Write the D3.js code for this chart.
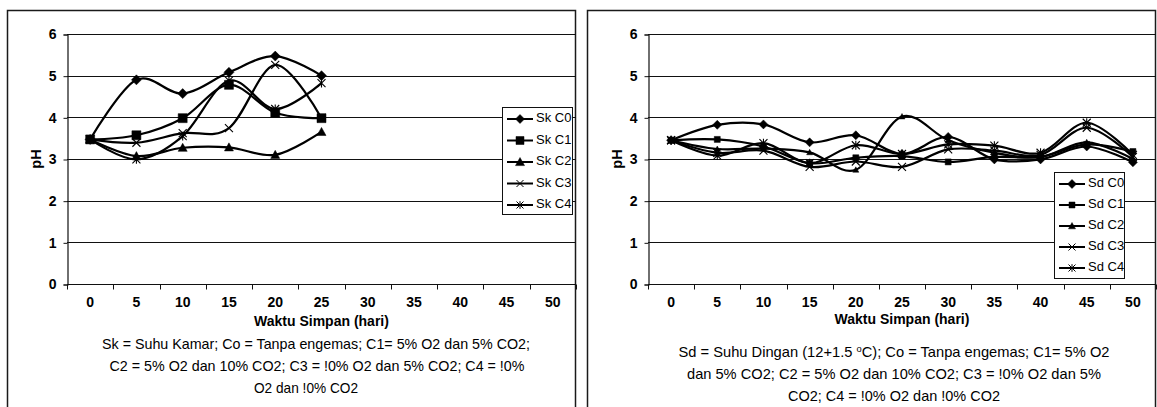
<!DOCTYPE html>
<html lang="id">
<head>
<meta charset="utf-8">
<title>pH - Waktu Simpan</title>
<script src="https://d3js.org/d3.v7.min.js"></script>
<style>
  body { margin: 0; background: #fff; }
  text { font-family: "Liberation Sans", Arial, sans-serif; fill: #000; }
</style>
</head>
<body>
<div id="chart"></div>
<script>
// data
const days = [0, 5, 10, 15, 20, 25, 30, 35, 40, 45, 50];
const yTicks = [0, 1, 2, 3, 4, 5, 6];

// Sk = suhu kamar (only up to day 25)
const skC0 = [3.47, 4.90, 4.57, 5.08, 5.47, 5.00];
const skC1 = [3.47, 3.57, 3.98, 4.78, 4.11, 3.98];
const skC2 = [3.47, 3.07, 3.27, 3.28, 3.10, 3.65];
const skC3 = [3.47, 3.39, 3.62, 3.74, 5.26, 3.98];
const skC4 = [3.47, 2.99, 3.55, 4.88, 4.20, 4.82];
const skNames = ["Sk C0", "Sk C1", "Sk C2", "Sk C3", "Sk C4"];

// Sd = suhu dingin
const sdC0 = [3.45, 3.82, 3.83, 3.40, 3.57, 3.12, 3.53, 2.99, 2.99, 3.30, 2.92];
const sdC1 = [3.45, 3.47, 3.30, 2.90, 3.03, 3.07, 2.93, 3.05, 3.05, 3.35, 3.18];
const sdC2 = [3.45, 3.24, 3.25, 3.16, 2.74, 4.02, 3.45, 3.15, 3.05, 3.40, 3.00];
const sdC3 = [3.45, 3.15, 3.20, 2.81, 2.94, 2.81, 3.23, 3.20, 3.10, 3.75, 3.05];
const sdC4 = [3.45, 3.08, 3.38, 2.90, 3.33, 3.12, 3.35, 3.32, 3.15, 3.87, 3.10];
const sdNames = ["Sd C0", "Sd C1", "Sd C2", "Sd C3", "Sd C4"];

const xTitle = "Waktu Simpan (hari)";
const yTitle = "pH";
const skCaption = [
  "Sk = Suhu Kamar; Co = Tanpa engemas; C1= 5% O2 dan 5% CO2;",
  "C2 = 5% O2 dan 10% CO2; C3 = !0% O2 dan 5% CO2; C4 = !0%",
  "O2 dan !0% CO2"
];
const sdCaption = [
  ["Sd = Suhu Dingan (12+1.5 ", "o", "C); Co = Tanpa engemas; C1= 5% O2"],
  ["dan 5% CO2; C2 = 5% O2 dan 10% CO2; C3 = !0% O2 dan 5%"],
  ["CO2; C4 = !0% O2 dan !0% CO2"]
];

const markerKinds = ["diamond", "square", "triangle", "cross", "star"];

const W = 1157, H = 407;
const svg = d3.select("#chart").append("svg")
  .attr("width", W).attr("height", H);

// marker shapes
function markerPath(kind, s) {
  const h = s / 2;
  if (kind === "diamond") return `M0,${-h}L${h},0L0,${h}L${-h},0Z`;
  if (kind === "square") return `M${-h},${-h}H${h}V${h}H${-h}Z`;
  if (kind === "triangle") return `M0,${-h}L${h},${h * 0.8}L${-h},${h * 0.8}Z`;
  if (kind === "cross") return `M${-h},${-h}L${h},${h}M${-h},${h}L${h},${-h}`;
  // asterisk
  return `M${-h},${-h}L${h},${h}M${-h},${h}L${h},${-h}M0,${-h * 1.1}V${h * 1.1}`;
}

function drawPanel(opt) {
  const g = svg.append("g");

  // chart border
  g.append("rect")
    .attr("x", opt.box[0] + 0.5).attr("y", opt.box[1] + 0.5)
    .attr("width", opt.box[2]).attr("height", 500)
    .attr("fill", "none").attr("stroke", "#1a1a1a").attr("stroke-width", 1.5);

  const x = d3.scaleBand().domain(days).range([opt.left, opt.right]);
  const cx = d => x(d) + x.bandwidth() / 2;
  const y = d3.scaleLinear().domain([0, 6]).range([284, 34]);

  // gridlines
  g.selectAll(".grid").data(yTicks.slice(1)).join("line")
    .attr("x1", opt.left).attr("x2", opt.right)
    .attr("y1", d => Math.round(y(d)) + 0.5).attr("y2", d => Math.round(y(d)) + 0.5)
    .attr("stroke", "#111").attr("stroke-width", 1);

  // y axis
  const yAxis = g.append("g")
    .attr("transform", `translate(${opt.left + 0.5},0.5)`)
    .call(d3.axisLeft(y).tickValues(yTicks).tickSize(4).tickPadding(7).tickFormat(d3.format("d")));
  yAxis.select(".domain").attr("stroke", "#111").attr("stroke-width", 1.2);
  yAxis.selectAll(".tick line").attr("stroke", "#111");
  yAxis.selectAll(".tick text")
    .style("font-size", "14px").style("font-weight", "bold")
    .attr("fill", "#000");

  // x axis (category axis, ticks between categories)
  const axisY = Math.round(y(0)) + 0.5;
  g.append("line")
    .attr("x1", opt.left).attr("x2", opt.right)
    .attr("y1", axisY).attr("y2", axisY)
    .attr("stroke", "#111").attr("stroke-width", 1.2);
  const bounds = days.map(d => x(d)).concat([opt.right]);
  g.selectAll(".xt").data(bounds).join("line")
    .attr("x1", d => Math.round(d) + 0.5).attr("x2", d => Math.round(d) + 0.5)
    .attr("y1", axisY).attr("y2", axisY + 5)
    .attr("stroke", "#111");
  g.selectAll(".xl").data(days).join("text")
    .attr("x", cx).attr("y", 307)
    .attr("text-anchor", "middle")
    .style("font-size", "14px").style("font-weight", "bold")
    .text(d => d);

  // axis titles
  g.append("text")
    .attr("x", (opt.left + opt.right) / 2).attr("y", opt.xTitleY)
    .attr("text-anchor", "middle")
    .style("font-size", "14px").style("font-weight", "bold")
    .text(xTitle);
  g.append("text")
    .attr("transform", `translate(${opt.left - 30},159) rotate(-90)`)
    .attr("text-anchor", "middle").attr("dominant-baseline", "middle")
    .style("font-size", "14.5px").style("font-weight", "bold")
    .text(yTitle);

  // series
  const line = d3.line()
    .x((v, i) => cx(days[i]))
    .y(v => y(v))
    .curve(d3.curveCatmullRom.alpha(0));

  opt.series.forEach((vals, k) => {
    const kind = markerKinds[k];
    g.append("path")
      .attr("d", line(vals))
      .attr("fill", "none").attr("stroke", "#000").attr("stroke-width", 2.2);
    const isLine = kind === "cross" || kind === "star";
    g.selectAll(null).data(vals).join("path")
      .attr("transform", (v, i) => `translate(${cx(days[i])},${y(v)})`)
      .attr("d", markerPath(kind, opt.msize[k]))
      .attr("fill", isLine ? "none" : "#000")
      .attr("stroke", "#000").attr("stroke-width", isLine ? 1.1 : 0.5);
  });

  // legend
  const lg = g.append("g").attr("transform", `translate(${opt.legend[0]},${opt.legend[1]})`);
  lg.append("rect")
    .attr("x", 0.5).attr("y", 0.5).attr("width", 70).attr("height", opt.legend[2])
    .attr("fill", "#fff").attr("stroke", "#111");
  opt.names.forEach((name, k) => {
    const kind = markerKinds[k];
    const ey = opt.legend[3] + k * opt.legend[4];
    const isLine = kind === "cross" || kind === "star";
    lg.append("line")
      .attr("x1", 5).attr("x2", 31).attr("y1", ey).attr("y2", ey)
      .attr("stroke", "#000").attr("stroke-width", 2);
    lg.append("path")
      .attr("transform", `translate(18,${ey})`)
      .attr("d", markerPath(kind, opt.lsize[k]))
      .attr("fill", isLine ? "none" : "#000")
      .attr("stroke", "#000").attr("stroke-width", isLine ? 1 : 0.5);
    lg.append("text")
      .attr("x", 34).attr("y", ey)
      .attr("dominant-baseline", "middle")
      .style("font-size", "13px")
      .text(name);
  });

  // caption
  opt.caption.forEach((parts, i) => {
    const t = g.append("text")
      .attr("x", opt.capX[i]).attr("y", opt.capY + i * 22)
      .attr("text-anchor", "middle")
      .style("font-size", "15px");
    if (opt.capW[i]) t.attr("textLength", opt.capW[i]).attr("lengthAdjust", "spacingAndGlyphs");
    [].concat(parts).forEach((p, j) => {
      const sp = t.append("tspan").text(p);
      if (j === 1) sp.attr("baseline-shift", "super").style("font-size", "9.5px");
    });
  });
}

drawPanel({
  box: [7, 10, 568],
  left: 67, right: 576,
  series: [skC0, skC1, skC2, skC3, skC4],
  names: skNames,
  msize: [10, 9, 9, 8, 8],
  lsize: [9, 8, 9, 7, 7],
  legend: [502, 107, 107, 12, 21.5],
  xTitleY: 326,
  caption: skCaption,
  capX: [316, 317, 306],
  capW: [428, 415, 104],
  capY: 349
});

drawPanel({
  box: [587, 10, 568],
  left: 648, right: 1156,
  series: [sdC0, sdC1, sdC2, sdC3, sdC4],
  names: sdNames,
  msize: [9, 6, 6, 8, 8],
  lsize: [9, 6, 7, 7, 7],
  legend: [1054, 172, 106, 12, 21],
  xTitleY: 324,
  caption: sdCaption,
  capX: [894, 894, 894],
  capW: [431, 414, 212],
  capY: 357
});
</script>
</body>
</html>
